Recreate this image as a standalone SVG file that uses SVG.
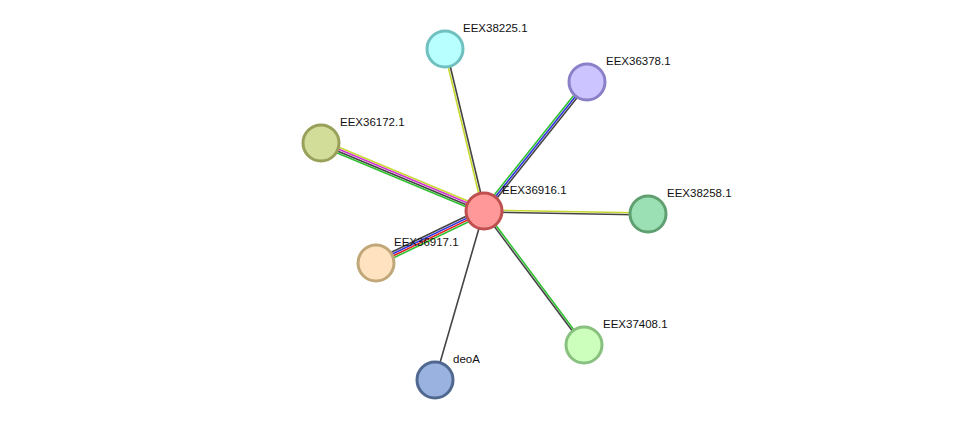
<svg xmlns="http://www.w3.org/2000/svg" width="975" height="426" viewBox="0 0 975 426">
<style>
line{stroke-width:1.6}
.k{stroke:#444}.y{stroke:#c8d830}.g{stroke:#30c030}.b{stroke:#3030e0}.m{stroke:#d030d0}.r{stroke:#e02020}
circle{stroke-width:3}
text{font-family:"Liberation Sans",Arial,sans-serif;font-size:11.5px;fill:#111}
</style>
<rect width="975" height="426" fill="#fff"/>
<g id="edges">
<line class="y" x1="483" y1="211.2" x2="444" y2="49.2"/>
<line class="k" x1="485" y1="210.8" x2="446" y2="48.8"/>
<line class="g" x1="482.4" y1="209.75" x2="585.4" y2="80.75"/>
<line class="b" x1="484" y1="211" x2="587" y2="82"/>
<line class="k" x1="485.6" y1="212.25" x2="588.6" y2="83.25"/>
<line class="y" x1="485.15" y1="208.23" x2="322.15" y2="140.23"/>
<line class="m" x1="484.39" y1="210.08" x2="321.39" y2="142.08"/>
<line class="k" x1="483.61" y1="211.92" x2="320.61" y2="143.92"/>
<line class="g" x1="482.85" y1="213.77" x2="319.85" y2="145.77"/>
<line class="k" x1="482.7" y1="208.3" x2="374.7" y2="260.3"/>
<line class="b" x1="483.57" y1="210.1" x2="375.57" y2="262.1"/>
<line class="r" x1="484.43" y1="211.9" x2="376.43" y2="263.9"/>
<line class="g" x1="485.3" y1="213.7" x2="377.3" y2="265.7"/>
<line class="y" x1="484" y1="210" x2="648" y2="213"/>
<line class="k" x1="484" y1="212" x2="648" y2="215"/>
<line class="g" x1="484.8" y1="210.4" x2="584.8" y2="344.4"/>
<line class="k" x1="483.2" y1="211.6" x2="583.2" y2="345.6"/>
<line class="k" x1="484" y1="211" x2="435" y2="380"/>
</g>
<g id="EEX38225.1"><circle cx="445" cy="49" r="18" fill="#b8ffff" stroke="#70c0c0"/><text x="463" y="32">EEX38225.1</text></g>
<g id="EEX36378.1"><circle cx="587" cy="82" r="18" fill="#ccc4ff" stroke="#8a80c8"/><text x="606" y="65">EEX36378.1</text></g>
<g id="EEX36172.1"><circle cx="321" cy="143" r="18" fill="#d2dd99" stroke="#99a05a"/><text x="340" y="126">EEX36172.1</text></g>
<g id="EEX36917.1"><circle cx="376" cy="263" r="18" fill="#ffe2c0" stroke="#c0a878"/><text x="394" y="246">EEX36917.1</text></g>
<g id="EEX38258.1"><circle cx="648" cy="214" r="18" fill="#9ae0b4" stroke="#60a070"/><text x="667" y="197">EEX38258.1</text></g>
<g id="EEX37408.1"><circle cx="584" cy="345" r="18" fill="#ccffbb" stroke="#88c080"/><text x="603" y="328">EEX37408.1</text></g>
<g id="deoA"><circle cx="435" cy="380" r="18" fill="#9ab2e0" stroke="#506890"/><text x="453" y="363">deoA</text></g>
<g id="EEX36916.1"><circle cx="484" cy="211" r="18" fill="#ff9898" stroke="#c05050"/><text x="502" y="194">EEX36916.1</text></g>
</svg>
